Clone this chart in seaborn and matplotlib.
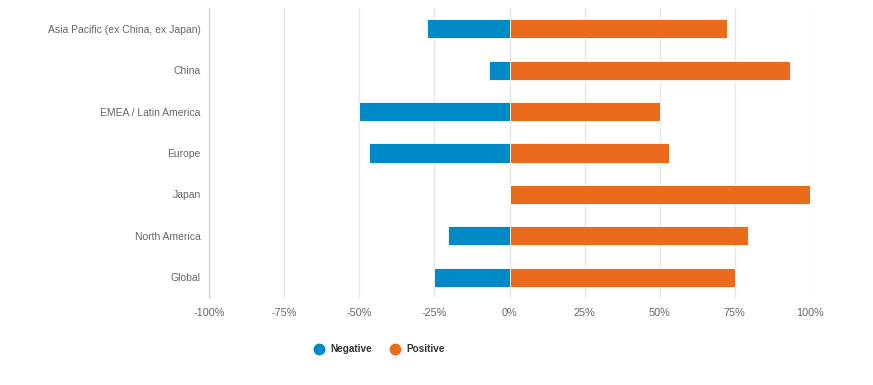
import pandas as pd
import matplotlib.pyplot as plt
import seaborn as sns
from matplotlib.lines import Line2D
from matplotlib.ticker import FuncFormatter

# Datos (porcentajes)
regions = ['Asia Pacific (ex China, ex Japan)', 'China', 'EMEA / Latin America',
           'Europe', 'Japan', 'North America', 'Global']
negative = [-27.5, -6.7, -50.0, -46.9, 0.0, -20.5, -25.0]
positive = [72.5, 93.3, 50.0, 53.1, 100.0, 79.5, 75.0]
series = ['Negative', 'Positive']
colors = {'Negative': '#0089C7', 'Positive': '#EB6B1C'}
x_ticks = [-100, -75, -50, -25, 0, 25, 50, 75, 100]

df = pd.DataFrame({
    'region': regions * 2,
    'sentiment': ['Negative'] * len(regions) + ['Positive'] * len(regions),
    'value': negative + positive,
})

sns.set_style("white")
plt.rcParams['font.family'] = ['Liberation Sans', 'DejaVu Sans']

fig = plt.figure(figsize=(8.73, 3.85), dpi=100)
ax = fig.add_axes([209 / 873, 1 - 298 / 385, 601 / 873, 290 / 385])

sns.barplot(data=df, y='region', x='value', hue='sentiment', order=regions,
            hue_order=series, palette=colors, saturation=1, dodge=False, width=0.46,
            orient='h', edgecolor='white', linewidth=0.6, legend=False, ax=ax)

ax.set_xlim(-100, 100)
ax.set_xticks(x_ticks)
ax.xaxis.set_major_formatter(FuncFormatter(lambda v, p: f'{int(v)}%'))
ax.grid(axis='x', color='#e6e6e6', linewidth=1)
ax.set_axisbelow(True)
ax.set_xlabel('')
ax.set_ylabel('')

for side in ['top', 'right', 'bottom']:
    ax.spines[side].set_visible(False)
ax.spines['left'].set_color('#ccd6eb')
ax.spines['left'].set_linewidth(1)

ax.tick_params(axis='x', colors='#e6e6e6', length=4, width=1, pad=3,
               labelcolor='#666666', labelsize=7.8)
ax.tick_params(axis='y', length=0, pad=6, labelcolor='#666666', labelsize=7.5)

handles = [Line2D([0], [0], marker='o', linestyle='', markersize=7.5,
                  markerfacecolor=colors[s], markeredgecolor=colors[s]) for s in series]
leg = fig.legend(handles, series, loc='center', bbox_to_anchor=(377 / 873, 1 - 349 / 385),
                 ncol=2, frameon=False, handletextpad=0.15, columnspacing=1.3,
                 prop={'size': 7.2, 'weight': 'bold'})
for t in leg.get_texts():
    t.set_color('#333333')

plt.savefig('out.png', dpi=100)
